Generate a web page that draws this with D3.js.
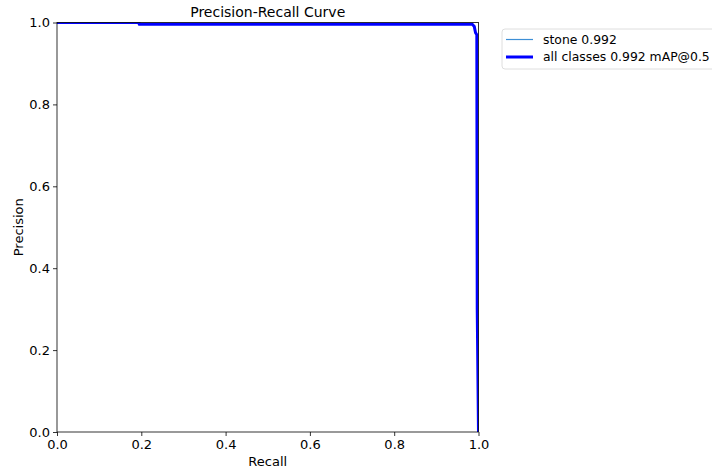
<!DOCTYPE html>
<html>
<head>
<meta charset="utf-8">
<script src="https://cdn.jsdelivr.net/npm/d3@7"></script>
<style>
  body { margin: 0; background: #fff; }
  svg { font-family: "DejaVu Sans", sans-serif; }
</style>
</head>
<body>
<svg id="chart" width="712" height="471"></svg>
<script>
// values
var recall    = [0, 0.195, 0.195, 0.985, 0.990, 0.993, 0.996, 0.997, 1.0];
var precision = [1, 1,     0.996, 0.996, 0.990, 0.975, 0.970, 0.300, 0.0];
var xTicks = [0, 0.2, 0.4, 0.6, 0.8, 1.0];
var yTicks = [0, 0.2, 0.4, 0.6, 0.8, 1.0];
var seriesNames = ["stone 0.992", "all classes 0.992 mAP@0.5"];

var svg = d3.select("svg#chart");
var margin = {top: 22.5, right: 233.5, bottom: 39, left: 57};
var width = 712 - margin.left - margin.right;
var height = 471 - margin.top - margin.bottom;

var xScale = d3.scaleLinear().domain([0, 1]).range([0, width]);
var yScale = d3.scaleLinear().domain([0, 1]).range([height, 0]);

var plot = svg.append("g")
  .attr("transform", "translate(" + margin.left + "," + margin.top + ")");

svg.append("defs").append("clipPath").attr("id", "clip")
  .append("rect").attr("width", width).attr("height", height);

var points = recall.map(function(r, i) { return [r, precision[i]]; });
var line = d3.line()
  .x(function(d) { return xScale(d[0]); })
  .y(function(d) { return yScale(d[1]); });

var curves = plot.append("g").attr("clip-path", "url(#clip)");
curves.append("path")
  .datum(points)
  .attr("d", line)
  .attr("fill", "none")
  .attr("stroke", "#3d8fd6")
  .attr("stroke-width", 1.2);
curves.append("path")
  .datum(points)
  .attr("d", line)
  .attr("fill", "none")
  .attr("stroke", "#0000ff")
  .attr("stroke-width", 3)
  .attr("stroke-linejoin", "round");

// axes
var xAxis = d3.axisBottom(xScale).tickValues(xTicks).tickFormat(d3.format(".1f")).tickSize(4).tickSizeOuter(0);
var yAxis = d3.axisLeft(yScale).tickValues(yTicks).tickFormat(d3.format(".1f")).tickSize(4).tickSizeOuter(0);

var gx = plot.append("g").attr("transform", "translate(0," + height + ")").call(xAxis);
var gy = plot.append("g").call(yAxis);
[gx, gy].forEach(function(g) {
  g.select(".domain").remove();
  g.selectAll("line").attr("stroke", "#000").attr("stroke-width", 0.8);
  g.selectAll("text").attr("font-size", 13).attr("fill", "#000")
    .attr("font-family", "DejaVu Sans, sans-serif");
});
gx.selectAll("text").attr("dy", "0.9em").attr("y", 5);
gy.selectAll("text").attr("x", -7);

// spines
plot.append("rect")
  .attr("width", width).attr("height", height)
  .attr("fill", "none").attr("stroke", "#000").attr("stroke-width", 0.8);

// labels
svg.append("text")
  .attr("x", margin.left + width / 2).attr("y", 17)
  .attr("text-anchor", "middle").attr("font-size", 14)
  .text("Precision-Recall Curve");
svg.append("text")
  .attr("x", margin.left + width / 2).attr("y", 466)
  .attr("text-anchor", "middle").attr("font-size", 13)
  .text("Recall");
svg.append("text")
  .attr("transform", "translate(23," + (margin.top + height / 2) + ") rotate(-90)")
  .attr("text-anchor", "middle").attr("font-size", 13)
  .text("Precision");

// legend
var legend = svg.append("g").attr("transform", "translate(502,29)");
legend.append("rect")
  .attr("width", 240).attr("height", 40).attr("rx", 3)
  .attr("fill", "#fff").attr("stroke", "#d6d6d6").attr("stroke-width", 0.8);
var styles = [{color: "#3d8fd6", w: 1.2}, {color: "#0000ff", w: 3}];
seriesNames.forEach(function(name, i) {
  var y = 10.5 + i * 17.5;
  legend.append("line")
    .attr("x1", 4).attr("x2", 31).attr("y1", y).attr("y2", y)
    .attr("stroke", styles[i].color).attr("stroke-width", styles[i].w);
  legend.append("text")
    .attr("x", 41).attr("y", y).attr("dy", "0.35em")
    .attr("font-size", 12.4).text(name);
});
</script>
</body>
</html>
